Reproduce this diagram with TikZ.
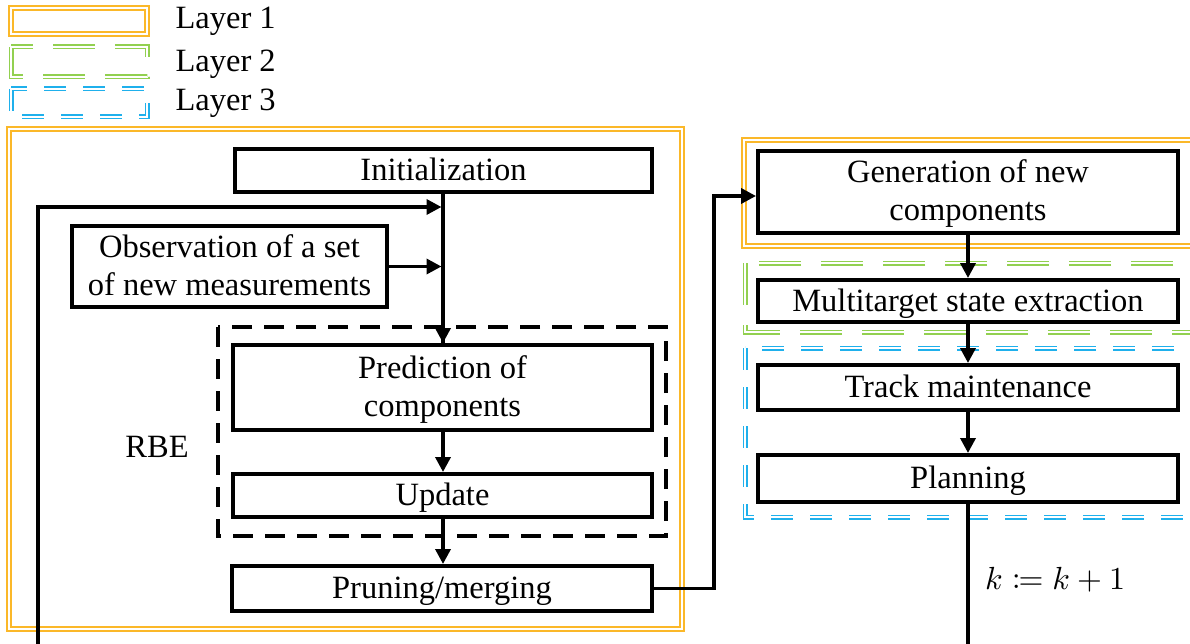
\documentclass[tikz,border=0pt]{standalone}
\usepackage{mathtools}
\usepackage{graphicx}
\usepackage{fontspec}
\setmainfont{Liberation Serif}
\usetikzlibrary{arrows.meta}
\definecolor{lyorange}{HTML}{FBB829}
\definecolor{lygreen}{HTML}{92D050}
\definecolor{lyblue}{HTML}{1FB0EC}
\begin{document}
\begin{tikzpicture}[x=1pt,y=-1pt,
  txt/.style={font=\fontsize{32.5}{38}\selectfont},
  boxbase/.style={draw=black, line width=4pt, inner sep=0pt, align=center, txt},
  box/.style={boxbase, text height=27pt, text depth=7pt},
  boxtwo/.style={boxbase, text height=65pt, text depth=7pt},
  conn/.style={line width=3.5pt, -{Triangle[length=15pt,width=15pt]}},
  plain/.style={line width=3.5pt},
  layerone/.style={draw=lyorange, line width=1.6pt, double=white, double distance=2pt},
  layertwo/.style={draw=lygreen, line width=1.5pt, double=white, double distance=2pt, dash pattern=on 42pt off 20pt},
  layerthree/.style={draw=lyblue, line width=1.5pt, double=white, double distance=2pt, dash pattern=on 22pt off 17pt},
  rbe/.style={draw=black, line width=4pt, dash pattern=on 20pt off 12pt}
]
\useasboundingbox (0,0) rectangle (1190,644);
\begin{scope}
\clip (0,0) rectangle (1190,644);
% legend
\draw[layerone] (11,8) rectangle (147,34);
\draw[layertwo] (11,47) rectangle (147,77);
\draw[layerthree] (11,89) rectangle (147,117);
\node[txt, anchor=west] (l1) at (172,21) {Layer 1};
\node[txt, anchor=west] (l2) at (172,64) {Layer 2};
\node[txt, anchor=west] (l3) at (172,103) {Layer 3};

% layer frames
\draw[layerone] (9,129) rectangle (682,629);
\draw[layerone] (744,140) rectangle (1200,246);
\draw[layertwo] (745,263) rectangle (1200,332);
\draw[layerthree] (745,348) rectangle (1200,517);

% RBE dashed box
\draw[rbe] (218,327) rectangle (666,536);
\node[txt] (rbelabel) at (157,447) {RBE};

% boxes
\node[box, minimum width=417pt, minimum height=43pt] (init) at (443.5,170.5) {Initialization};
\node[boxtwo, minimum width=315pt, minimum height=81pt] (obs) at (229.5,266.5) {Observation of a set\\of new measurements};
\node[boxtwo, minimum width=419pt, minimum height=85pt] (pred) at (442.5,387.5) {Prediction of\\components};
\node[box, minimum width=419pt, minimum height=43pt] (upd) at (442.5,495.5) {Update};
\node[box, minimum width=420pt, minimum height=45pt] (prune) at (442,588.5) {Pruning/merging};
\node[boxtwo, minimum width=420pt, minimum height=82pt] (gen) at (968,192) {Generation of new\\components};
\node[box, minimum width=420pt, minimum height=42pt] (multi) at (968,301) {Multitarget state extraction};
\node[box, minimum width=420pt, minimum height=45pt] (track) at (968,387.5) {Track maintenance};
\node[box, minimum width=420pt, minimum height=47pt] (plan) at (968,478.5) {Planning};
\node[anchor=west, inner sep=0pt] (kinc) at (985,580) {\fontsize{10}{12}\selectfont\scalebox{3.2}{$k \coloneqq k + 1$}};

% connectors
\coordinate (loopbot) at (38,650);
\coordinate (loopcorner) at (38,207);
\coordinate (planbot) at (968,650);
\coordinate (m1) at (443,207);
\draw[plain] (init.south -| 443,0) -- (443,343);
\draw[conn] (443,192) -- (pred.north -| 443,0);
\draw[conn, shorten >=1.5pt] (loopbot) -- (loopcorner) -- (m1);
\draw[conn, shorten >=1.5pt] (obs.east) -- (obs.east -| m1);
\draw[conn] (pred.south -| 443,0) -- (upd.north -| 443,0);
\draw[conn] (upd.south -| 443,0) -- (prune.north -| 443,0);
\draw[conn] (prune.east) -- (714,588.5) -- (714,196) -- (gen.west |- 0,196);
\draw[conn] (gen.south) -- (multi.north);
\draw[conn] (multi.south) -- (track.north);
\draw[conn] (track.south) -- (plan.north);
\draw[plain] (plan.south) -- (planbot);
\end{scope}
\end{tikzpicture}
\end{document}
